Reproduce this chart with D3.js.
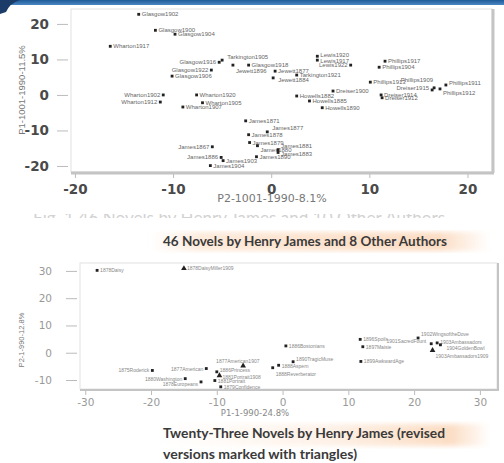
<!DOCTYPE html>
<html>
<head>
<meta charset="utf-8">
<script src="https://cdn.jsdelivr.net/npm/d3@7"></script>
<style>
  body { margin: 0; background: #fff; }
  svg { display: block; }
</style>
</head>
<body>
<div id="viz"></div>
<script>
const W = 504, H = 463;

// chart 1: 46 novels by James + 8 other authors
const names1 = ["Glasgow1902","Glasgow1900","Glasgow1904","Wharton1917","Glasgow1916","Tarkington1905",
  "Glasgow1922","Glasgow1906","Jewett1896","Glasgow1918","Jewett1877","Lewis1920","Lewis1917","Lewis1922",
  "Tarkington1921","Jewett1884","Phillips1917","Phillips1904","Phillips1913","Dreiser1900","Phillips1911",
  "Phillips1912","Phillips1909","Dreiser1915","Dreiser1914","Dreiser1912","Howells1882","Howells1885",
  "Howells1890","Wharton1902","Wharton1912","Wharton1920","Wharton1905","Wharton1907","James1871",
  "James1877","James1878","James1879","James1880","James1881","James1883","James1890","James1867",
  "James1886","James1903","James1904"];
const p2_1 = [-13.5,-11.8,-9.8,-16.4,-5.3,-5.0,-6.1,-10.1,-3.9,-2.3,0.4,4.7,4.7,8.1,
  2.6,0.2,11.6,11.0,10.1,6.3,17.8,17.2,16.6,16.4,11.2,11.3,2.6,3.9,
  5.2,-11.0,-11.3,-7.6,-7.0,-9.0,-2.6,-0.4,-2.3,-2.2,-1.4,0.7,0.7,-1.5,-6.0,
  -5.1,-4.9,-6.2];
const p1_1 = [22.7,18.2,17.1,13.7,9.2,9.8,7.0,5.3,8.4,8.4,6.7,10.9,9.8,8.4,
  5.6,4.8,9.5,7.8,3.6,1.1,2.8,1.7,2.0,1.4,0.0,-0.8,-0.3,-1.7,
  -3.6,0.0,-2.0,0.0,-2.2,-3.4,-7.3,-10.4,-11.2,-13.4,-14.3,-15.4,-16.2,-17.4,-14.6,
  -17.6,-18.5,-19.9];
const leftLabels1 = ["Glasgow1916","Glasgow1922","Lewis1922","Phillips1909","Dreiser1915",
  "Wharton1902","Wharton1912","James1867","James1886"];
const xTicks1 = [-20,-10,0,10,20];
const yTicks1 = [-20,-10,0,10,20];

// chart 2: 23 novels by James, revised versions as triangles
const names2 = ["1878Daisy","1878DaisyMiller1909","1875Roderick","1877American","1877American1907",
  "1880Washington","1878Europeans","1881Portrait","1881Portrait1908","1879Confidence","1886Princess",
  "1886Bostonians","1890TragicMuse","1888Aspern","1888Reverberator","1896Spoils",
  "1897Maisie","1899AwkwardAge","1902WingsoftheDove","1901SacredFount","1903Ambassadors",
  "1904GoldenBowl","1903Ambassadors1909"];
const p1_2 = [-28.2,-15.0,-19.8,-11.6,-6.0,-14.8,-12.4,-10.3,-9.6,-9.4,-10.0,
  0.5,1.6,-0.6,-1.5,11.8,12.2,11.9,20.6,22.6,23.5,24.0,22.8];
const p2_2 = [30.2,30.9,-6.5,-5.8,-4.8,-9.5,-10.7,-10.2,-8.4,-12.5,-7.0,
  2.5,-3.3,-4.6,-5.5,4.9,2.2,-3.2,5.4,3.3,3.6,2.9,0.9];
const revised2 = ["1878DaisyMiller1909","1877American1907","1881Portrait1908","1903Ambassadors1909"];
const leftLabels2 = ["1875Roderick","1877American","1880Washington","1878Europeans","1901SacredFount"];
const xTicks2 = [-30,-20,-10,0,10,20,30];
const yTicks2 = [-10,0,10,20,30];

// small label nudges (px) so stacked labels read like the original
const nudge = {
  "Tarkington1905": [2, -3], "Jewett1896": [0, 6], "Phillips1911": [0, -2], "Phillips1912": [0, 4],
  "Phillips1909": [2, -8], "Dreiser1915": [0, -2], "James1877": [2, -4], "James1880": [0, 4],
  "James1881": [0, -4], "James1883": [0, 2], "Jewett1884": [2, 2], "Lewis1920": [0, -1], "Lewis1917": [0, 1],
  "1877American1907": [-30, -5], "1881Portrait1908": [0, 1], "1886Princess": [0, -2],
  "1888Aspern": [0, 1], "1888Reverberator": [0, 6], "1890TragicMuse": [0, -3], "1878Europeans": [0, 2],
  "1902WingsoftheDove": [0, -4], "1903Ambassadors": [0, -1], "1904GoldenBowl": [3, 3],
  "1903Ambassadors1909": [0, 6], "1901SacredFount": [-2, -3]
};

const svg = d3.select("#viz").append("svg")
  .attr("width", W).attr("height", H);

const defs = svg.append("defs");
var grad = defs.append("linearGradient").attr("id", "peach");
grad.append("stop").attr("offset", "0%").attr("stop-color", "#fbd9bd").attr("stop-opacity", 0);
grad.append("stop").attr("offset", "15%").attr("stop-color", "#fbd9bd").attr("stop-opacity", 0.55);
grad.append("stop").attr("offset", "85%").attr("stop-color", "#fbd9bd").attr("stop-opacity", 0.9);
grad.append("stop").attr("offset", "100%").attr("stop-color", "#fbd9bd").attr("stop-opacity", 0);
var grad2 = defs.append("linearGradient").attr("id", "peach2");
grad2.append("stop").attr("offset", "0%").attr("stop-color", "#fbd9bd").attr("stop-opacity", 0);
grad2.append("stop").attr("offset", "50%").attr("stop-color", "#fbd9bd").attr("stop-opacity", 0.35);
grad2.append("stop").attr("offset", "88%").attr("stop-color", "#fbd9bd").attr("stop-opacity", 0.9);
grad2.append("stop").attr("offset", "100%").attr("stop-color", "#fbd9bd").attr("stop-opacity", 0);
defs.append("filter").attr("id", "soft")
  .append("feGaussianBlur").attr("stdDeviation", 2.5);
var topGrad = defs.append("linearGradient").attr("id", "bar").attr("x2", 0).attr("y2", 1);
topGrad.append("stop").attr("offset", "0%").attr("stop-color", "#1f5a98");
topGrad.append("stop").attr("offset", "100%").attr("stop-color", "#4a87c2");
defs.append("clipPath").attr("id", "ghostclip")
  .append("rect").attr("x", 0).attr("y", 214).attr("width", W).attr("height", 4);

// header bar
svg.append("rect").attr("x", 0).attr("y", 0).attr("width", W).attr("height", 5).attr("fill", "url(#bar)");
svg.append("path").attr("d", "M0,0 L20,0 Q10,3 6,12 L0,14 Z").attr("fill", "#1b3c68");

function scatter(cfg) {
  var x = d3.scaleLinear().domain(cfg.xDom).range([cfg.left, cfg.right]);
  var y = d3.scaleLinear().domain(cfg.yDom).range([cfg.bottom, cfg.top]);
  var g = svg.append("g");

  // frame
  g.append("rect").attr("x", cfg.left).attr("y", cfg.top)
    .attr("width", cfg.right - cfg.left).attr("height", cfg.bottom - cfg.top)
    .attr("fill", "#fff").attr("stroke", "#e2e2e2").attr("stroke-width", 1);
  g.append("line").attr("x1", cfg.right + 1).attr("x2", cfg.right + 1)
    .attr("y1", cfg.top).attr("y2", cfg.bottom + 1)
    .attr("stroke", "#c4c4c4").attr("stroke-width", cfg.frameW);
  g.append("line").attr("x1", cfg.left).attr("x2", cfg.right + 2)
    .attr("y1", cfg.bottom + 1).attr("y2", cfg.bottom + 1)
    .attr("stroke", "#c4c4c4").attr("stroke-width", cfg.frameW);

  var ya = g.append("g").attr("transform", "translate(" + (cfg.left - 3) + ",0)")
    .call(d3.axisLeft(y).tickValues(cfg.yTicks).tickSize(11).tickPadding(cfg.yPad).tickFormat(d3.format("d")));
  var xa = g.append("g").attr("transform", "translate(0," + (cfg.bottom + 2) + ")")
    .call(d3.axisBottom(x).tickValues(cfg.xTicks).tickSize(4).tickPadding(cfg.xPad).tickFormat(d3.format("d")));
  [ya, xa].forEach(function(a) {
    a.select(".domain").remove();
    a.selectAll("line").attr("stroke", "#bbb");
    a.selectAll("text").attr("font-family", "DejaVu Sans, sans-serif")
      .attr("font-size", cfg.tickFont).attr("fill", cfg.tickColor)
      .attr("font-weight", cfg.tickWeight)
      .text(function(d) { return d < 0 ? "-" + Math.abs(d) : d; });
  });

  var pts = g.append("g").selectAll("g")
    .data(cfg.names.map(function(n, i) { return {name: n, x: cfg.xs[i], y: cfg.ys[i]}; }))
    .enter().append("g")
    .attr("transform", function(d) { return "translate(" + x(d.x) + "," + y(d.y) + ")"; });
  pts.append("path")
    .attr("d", function(d) {
      var tri = cfg.revised && cfg.revised.indexOf(d.name) >= 0;
      return d3.symbol().type(tri ? d3.symbolTriangle : d3.symbolSquare).size(tri ? 14 : 8)();
    })
    .attr("fill", "#222");
  pts.append("text")
    .attr("x", function(d) {
      var n = nudge[d.name] ? nudge[d.name][0] : 0;
      return (cfg.leftLabels.indexOf(d.name) >= 0 ? -3 : 3) + n;
    })
    .attr("y", function(d) { return 2 + (nudge[d.name] ? nudge[d.name][1] : 0); })
    .attr("text-anchor", function(d) { return cfg.leftLabels.indexOf(d.name) >= 0 ? "end" : "start"; })
    .attr("font-family", "Liberation Sans, Arial, sans-serif")
    .attr("font-size", cfg.labelFont).attr("fill", cfg.labelColor)
    .text(function(d) { return d.name; });
}

scatter({
  names: names1, xs: p2_1, ys: p1_1, leftLabels: leftLabels1,
  xDom: [-20.4, 22.5], yDom: [-21.7, 24.2],
  left: 71, right: 492, top: 9, bottom: 172,
  xTicks: xTicks1, yTicks: yTicks1, frameW: 3,
  tickFont: "13.5px", tickColor: "#4a4a4a", tickWeight: "bold", yPad: 8, xPad: 6,
  labelFont: "6px", labelColor: "#666"
});
svg.append("text").attr("x", 272).attr("y", 202).attr("text-anchor", "middle")
  .attr("font-family", "DejaVu Sans, sans-serif").attr("font-size", "11px").attr("fill", "#777")
  .text("P2-1001-1990-8.1%");
svg.append("text").attr("transform", "translate(25,90) rotate(-90)").attr("text-anchor", "middle")
  .attr("font-family", "Liberation Sans, Arial, sans-serif").attr("font-size", "9.5px").attr("fill", "#777")
  .text("P1-1001-1990-11.5%");

// cut-off original caption line, only a sliver shows
svg.append("text").attr("x", 33).attr("y", 224).attr("clip-path", "url(#ghostclip)")
  .attr("font-family", "Lato, sans-serif").attr("font-size", "17px").attr("fill", "#d2d2d2")
  .attr("textLength", 412)
  .text("Fig. 1  46 Novels by Henry James and 10 Other Authors");

svg.append("rect").attr("x", 150).attr("y", 232).attr("width", 340).attr("height", 19)
  .attr("fill", "url(#peach)").attr("filter", "url(#soft)");
svg.append("text").attr("x", 163).attr("y", 246)
  .attr("font-family", "Lato, sans-serif").attr("font-size", "13.5px").attr("font-weight", "bold")
  .attr("fill", "#3a3a3a").attr("textLength", 284).attr("lengthAdjust", "spacingAndGlyphs")
  .text("46 Novels by Henry James and 8 Other Authors");

scatter({
  names: names2, xs: p1_2, ys: p2_2, leftLabels: leftLabels2, revised: revised2,
  xDom: [-30.8, 32.6], yDom: [-13.3, 32.9],
  left: 80, right: 497, top: 263, bottom: 389,
  xTicks: xTicks2, yTicks: yTicks2, frameW: 2,
  tickFont: "10.5px", tickColor: "#999", tickWeight: "normal", yPad: 14, xPad: 4,
  labelFont: "5px", labelColor: "#888"
});
svg.append("text").attr("x", 255).attr("y", 416).attr("text-anchor", "middle")
  .attr("font-family", "DejaVu Sans, sans-serif").attr("font-size", "8.5px").attr("fill", "#888")
  .text("P1-1-990-24.8%");
svg.append("text").attr("transform", "translate(24,340) rotate(-90)").attr("text-anchor", "middle")
  .attr("font-family", "Liberation Sans, Arial, sans-serif").attr("font-size", "7.5px").attr("fill", "#777")
  .text("P2-1-990-12.8%");

svg.append("rect").attr("x", 160).attr("y", 424).attr("width", 330).attr("height", 22)
  .attr("fill", "url(#peach2)").attr("filter", "url(#soft)");
var cap2 = svg.append("text").attr("font-family", "Lato, sans-serif").attr("font-size", "13.5px")
  .attr("font-weight", "bold").attr("fill", "#3a3a3a");
cap2.append("tspan").attr("x", 163).attr("y", 438).attr("textLength", 282).attr("lengthAdjust", "spacingAndGlyphs")
  .text("Twenty-Three Novels by Henry James (revised");
cap2.append("tspan").attr("x", 163).attr("y", 459).attr("textLength", 194).attr("lengthAdjust", "spacingAndGlyphs")
  .text("versions marked with triangles)");
</script>
</body>
</html>
